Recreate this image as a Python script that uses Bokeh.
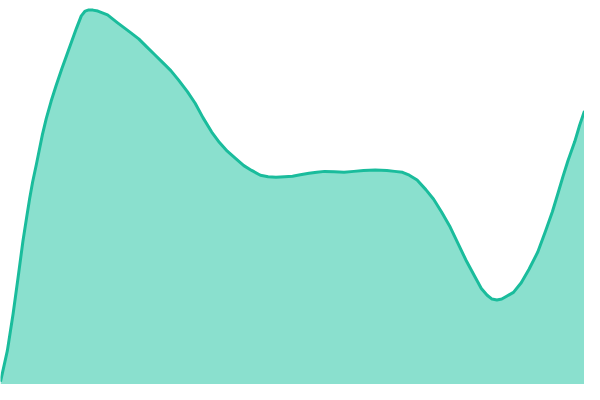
from bokeh.plotting import figure
from bokeh.models import Range1d
from bokeh.embed import file_html
from bokeh.resources import INLINE

# points (x position, height above the baseline)
x = [0, 7, 13, 18, 23, 27, 30, 33, 37, 40, 43, 47, 52, 57, 63, 68, 73, 78,
     83, 87, 90, 95, 100, 110, 120,
     133, 142, 150, 158, 167, 175, 183, 192, 200, 208, 217, 225, 233, 242,
     250, 258, 267, 275, 283, 292, 300, 308, 317, 325, 333, 343, 353, 363,
     373, 385, 397, 405, 413, 420, 428, 437, 445, 453, 462, 470, 478, 487,
     494, 500, 505, 510, 515, 520, 527, 535, 543, 552, 560, 567, 573, 578,
     583, 590, 595, 600]
values = [3, 35, 74, 111, 149, 175, 194, 211, 230, 245, 260, 277, 295, 311,
          329, 343, 357, 371, 384, 389, 390,
          390, 389, 385, 377, 367, 360, 352, 344, 335, 327, 317, 305, 293,
          278, 263, 252, 243, 235, 228, 223, 218, 216.5, 216, 216.5, 217,
          218.5, 220, 221, 222, 221.5, 221, 222, 223, 223.5, 223, 222, 221,
          218, 213, 203, 193, 180, 164, 147, 130, 113, 100, 93, 89, 88, 89,
          92, 96, 106, 120, 138, 160, 180, 200, 217, 233, 253, 270, 285]

p = figure(width=584, height=384, output_backend="svg", toolbar_location=None,
           x_range=Range1d(0, 600), y_range=Range1d(0, 400), min_border=0)
p.axis.visible = False
p.grid.visible = False
p.outline_line_color = None
p.background_fill_color = "white"

p.varea(x=x, y1=0, y2=values, fill_color="#8ae0ce")
p.line(x, values, line_color="#1abc9c", line_width=3, line_join="round")

open("out.html", "w").write(file_html(p, INLINE))
